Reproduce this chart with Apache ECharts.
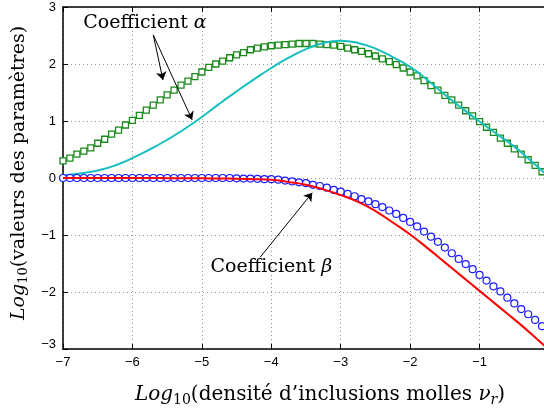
<!DOCTYPE html>
<html>
<head>
<meta charset="utf-8">
<script src="https://cdn.jsdelivr.net/npm/echarts@6/dist/echarts.min.js"></script>
<style>html,body{margin:0;padding:0;background:#fff}#c{width:544px;height:412px}</style>
</head>
<body>
<div id="c"></div>
<script>
// x positions of the marker series (log10 density)
const xMarkers = [-7.0,-6.9,-6.8,-6.7,-6.6,-6.5,-6.4,-6.3,-6.2,-6.1,-6.0,-5.9,-5.8,-5.7,-5.6,-5.5,-5.4,-5.3,-5.2,-5.1,-5.0,-4.9,-4.8,-4.7,-4.6,-4.5,-4.4,-4.3,-4.2,-4.1,-4.0,-3.9,-3.8,-3.7,-3.6,-3.5,-3.4,-3.3,-3.2,-3.1,-3.0,-2.9,-2.8,-2.7,-2.6,-2.5,-2.4,-2.3,-2.2,-2.1,-2.0,-1.9,-1.8,-1.7,-1.6,-1.5,-1.4,-1.3,-1.2,-1.1,-1.0,-0.9,-0.8,-0.7,-0.6,-0.5,-0.4,-0.3,-0.2,-0.1,0.0];
// alpha, square markers
const alphaMarkers = [0.30,0.35,0.42,0.47,0.53,0.61,0.68,0.77,0.84,0.93,1.01,1.10,1.19,1.28,1.37,1.46,1.54,1.63,1.70,1.78,1.86,1.94,2.00,2.05,2.11,2.16,2.20,2.25,2.28,2.30,2.32,2.33,2.34,2.35,2.36,2.36,2.36,2.35,2.34,2.33,2.31,2.28,2.25,2.22,2.18,2.14,2.09,2.04,1.99,1.93,1.86,1.79,1.71,1.62,1.54,1.45,1.37,1.28,1.18,1.09,0.99,0.89,0.80,0.70,0.61,0.51,0.42,0.32,0.22,0.11,0.02];
// beta, circle markers
const betaMarkers = [0,0,0,0,0,0,0,0,0,0,0,0,0,0,0,0,0,0,0,0,0,0,0,0,0,-0.005,-0.01,-0.01,-0.015,-0.02,-0.02,-0.03,-0.045,-0.06,-0.075,-0.09,-0.12,-0.14,-0.17,-0.21,-0.24,-0.28,-0.32,-0.37,-0.41,-0.46,-0.51,-0.57,-0.63,-0.70,-0.77,-0.85,-0.94,-1.03,-1.12,-1.22,-1.32,-1.42,-1.51,-1.60,-1.70,-1.80,-1.90,-1.99,-2.10,-2.20,-2.30,-2.39,-2.49,-2.60,-2.70];
// x positions of the curves
const xCurves = [-7,-6.75,-6.5,-6.25,-6,-5.75,-5.5,-5.25,-5,-4.75,-4.5,-4.25,-4,-3.75,-3.5,-3.25,-3,-2.75,-2.5,-2.25,-2,-1.75,-1.5,-1.25,-1,-0.75,-0.5,-0.25,0];
// alpha, cyan curve
const alphaCurve = [0.05,0.08,0.13,0.22,0.35,0.50,0.67,0.86,1.07,1.30,1.52,1.73,1.93,2.11,2.26,2.37,2.41,2.37,2.27,2.12,1.95,1.72,1.46,1.22,0.99,0.77,0.55,0.29,0.02];
// beta, red curve
const betaCurve = [0,0,0,0,0,0,-0.003,-0.005,-0.006,-0.01,-0.012,-0.02,-0.03,-0.07,-0.12,-0.20,-0.30,-0.42,-0.58,-0.78,-0.99,-1.23,-1.48,-1.73,-1.98,-2.23,-2.48,-2.74,-3.02];
const xTicks = [-7,-6,-5,-4,-3,-2,-1];
const yTicks = [-3,-2,-1,0,1,2,3];
const labelAlpha = 'Coefficient ';
const labelBeta = 'Coefficient ';

const pairs = (xs, ys) => xs.map((x, i) => [x, ys[i]]);
const fmt = v => (v < 0 ? '\u2212' + Math.abs(v) : String(v));
const serif = 'DejaVu Serif';
const sans = 'Liberation Sans';
const mkRich = (fs, ss, drop) => ({
  i: {fontFamily: serif, fontStyle: 'italic', fontSize: fs, color: '#000'},
  n: {fontFamily: serif, fontSize: fs, color: '#000'},
  s: {fontFamily: serif, fontSize: ss, color: '#000', padding: [drop, 0, 0, 0]},
  si: {fontFamily: serif, fontStyle: 'italic', fontSize: ss, color: '#000', padding: [drop, 0, 0, 0]}
});
const richA = {
  n: {fontFamily: serif, fontSize: 19, color: '#000'},
  g: {fontFamily: serif, fontStyle: 'italic', fontSize: 19, color: '#000'}
};

const chart = echarts.init(document.getElementById('c'), null, {renderer: 'canvas'});
chart.setOption({
  animation: false,
  backgroundColor: '#fff',
  grid: {left: 63, top: 7, width: 486, height: 342, containLabel: false, outerBoundsMode: 'none'},
  xAxis: [{
    type: 'value', min: -7, max: 0, interval: 1,
    axisLine: {show: true, onZero: false, lineStyle: {color: '#000', width: 1.5}},
    axisTick: {show: true, inside: true, length: 5, lineStyle: {color: '#000'}},
    axisLabel: {formatter: v => (xTicks.includes(v) ? fmt(v) : ''), fontFamily: sans, fontSize: 13, color: '#000', margin: 7},
    splitLine: {show: true, lineStyle: {color: '#999', type: [1, 3], width: 1}},
    name: '{i|Log}{s|10}{n|(densité d\u2019inclusions molles }{i|\u03bd}{si|r}{n|)}',
    nameLocation: 'middle', nameGap: 34,
    nameTextStyle: {rich: mkRich(20, 14, 10), padding: [0, 0, 0, 28]}
  }, {
    type: 'value', min: -7, max: 0, interval: 1, position: 'top',
    axisLine: {show: true, onZero: false, lineStyle: {color: '#000', width: 1.5}},
    axisTick: {show: true, inside: true, length: 5, lineStyle: {color: '#000'}},
    axisLabel: {show: false}, splitLine: {show: false}
  }],
  yAxis: [{
    type: 'value', min: -3, max: 3, interval: 1,
    axisLine: {show: true, onZero: false, lineStyle: {color: '#000', width: 1.5}},
    axisTick: {show: true, inside: true, length: 5, lineStyle: {color: '#000'}},
    axisLabel: {
      formatter: v => (!yTicks.includes(v) ? '' : (v === -3 ? '{lo|' + fmt(v) + '}' : fmt(v))),
      fontFamily: sans, fontSize: 13, color: '#000', margin: 7,
      rich: {lo: {fontFamily: sans, fontSize: 13, color: '#000', padding: [0, 0, 10, 0]}}
    },
    splitLine: {show: true, lineStyle: {color: '#999', type: [1, 3], width: 1}},
    name: '{i|Log}{s|10}{n|(valeurs des paramètres)}',
    nameLocation: 'middle', nameGap: 31, nameRotate: 90,
    nameTextStyle: {rich: mkRich(19, 13, 9), padding: [0, 0, 0, 10]}
  }],
  series: [{
    type: 'line', name: 'alphaM', data: pairs(xMarkers, alphaMarkers),
    lineStyle: {width: 0, opacity: 0}, symbol: 'rect', symbolSize: 6,
    itemStyle: {color: '#ffffff', borderColor: '#1a8a1a', borderWidth: 1.3},
    z: 2,
    markPoint: {
      silent: true, symbol: 'circle', symbolSize: 1, itemStyle: {color: 'rgba(0,0,0,0)'},
      label: {show: true, position: 'inside', rich: richA},
      data: [
        {coord: [-5.82, 2.72], label: {formatter: '{n|' + labelAlpha + '}{g|\u03b1}'}},
        {coord: [-4.0, -1.56], label: {formatter: '{n|' + labelBeta + '}{g|\u03b2}'}}
      ]
    },
    markLine: {
      silent: true, symbol: ['none', 'arrow'], symbolSize: 8,
      lineStyle: {color: '#000', width: 1, type: 'solid'}, label: {show: false},
      data: [
        [{coord: [-5.70, 2.51]}, {coord: [-5.56, 1.72]}],
        [{coord: [-5.70, 2.51]}, {coord: [-5.14, 1.02]}],
        [{coord: [-4.16, -1.39]}, {coord: [-3.41, -0.26]}]
      ]
    }
  }, {
    type: 'line', name: 'alphaC', data: pairs(xCurves, alphaCurve), smooth: 0.5,
    symbol: 'none', lineStyle: {color: '#17bfbf', width: 2}, z: 3
  }, {
    type: 'line', name: 'betaM', data: pairs(xMarkers, betaMarkers),
    lineStyle: {width: 0, opacity: 0}, symbol: 'circle', symbolSize: 7,
    itemStyle: {color: '#fff', borderColor: '#1a1aff', borderWidth: 1.2}, z: 4
  }, {
    type: 'line', name: 'betaC', data: pairs(xCurves, betaCurve), smooth: 0.5,
    symbol: 'none', lineStyle: {color: '#ff0000', width: 2}, z: 5
  }]
});
</script>
</body>
</html>
